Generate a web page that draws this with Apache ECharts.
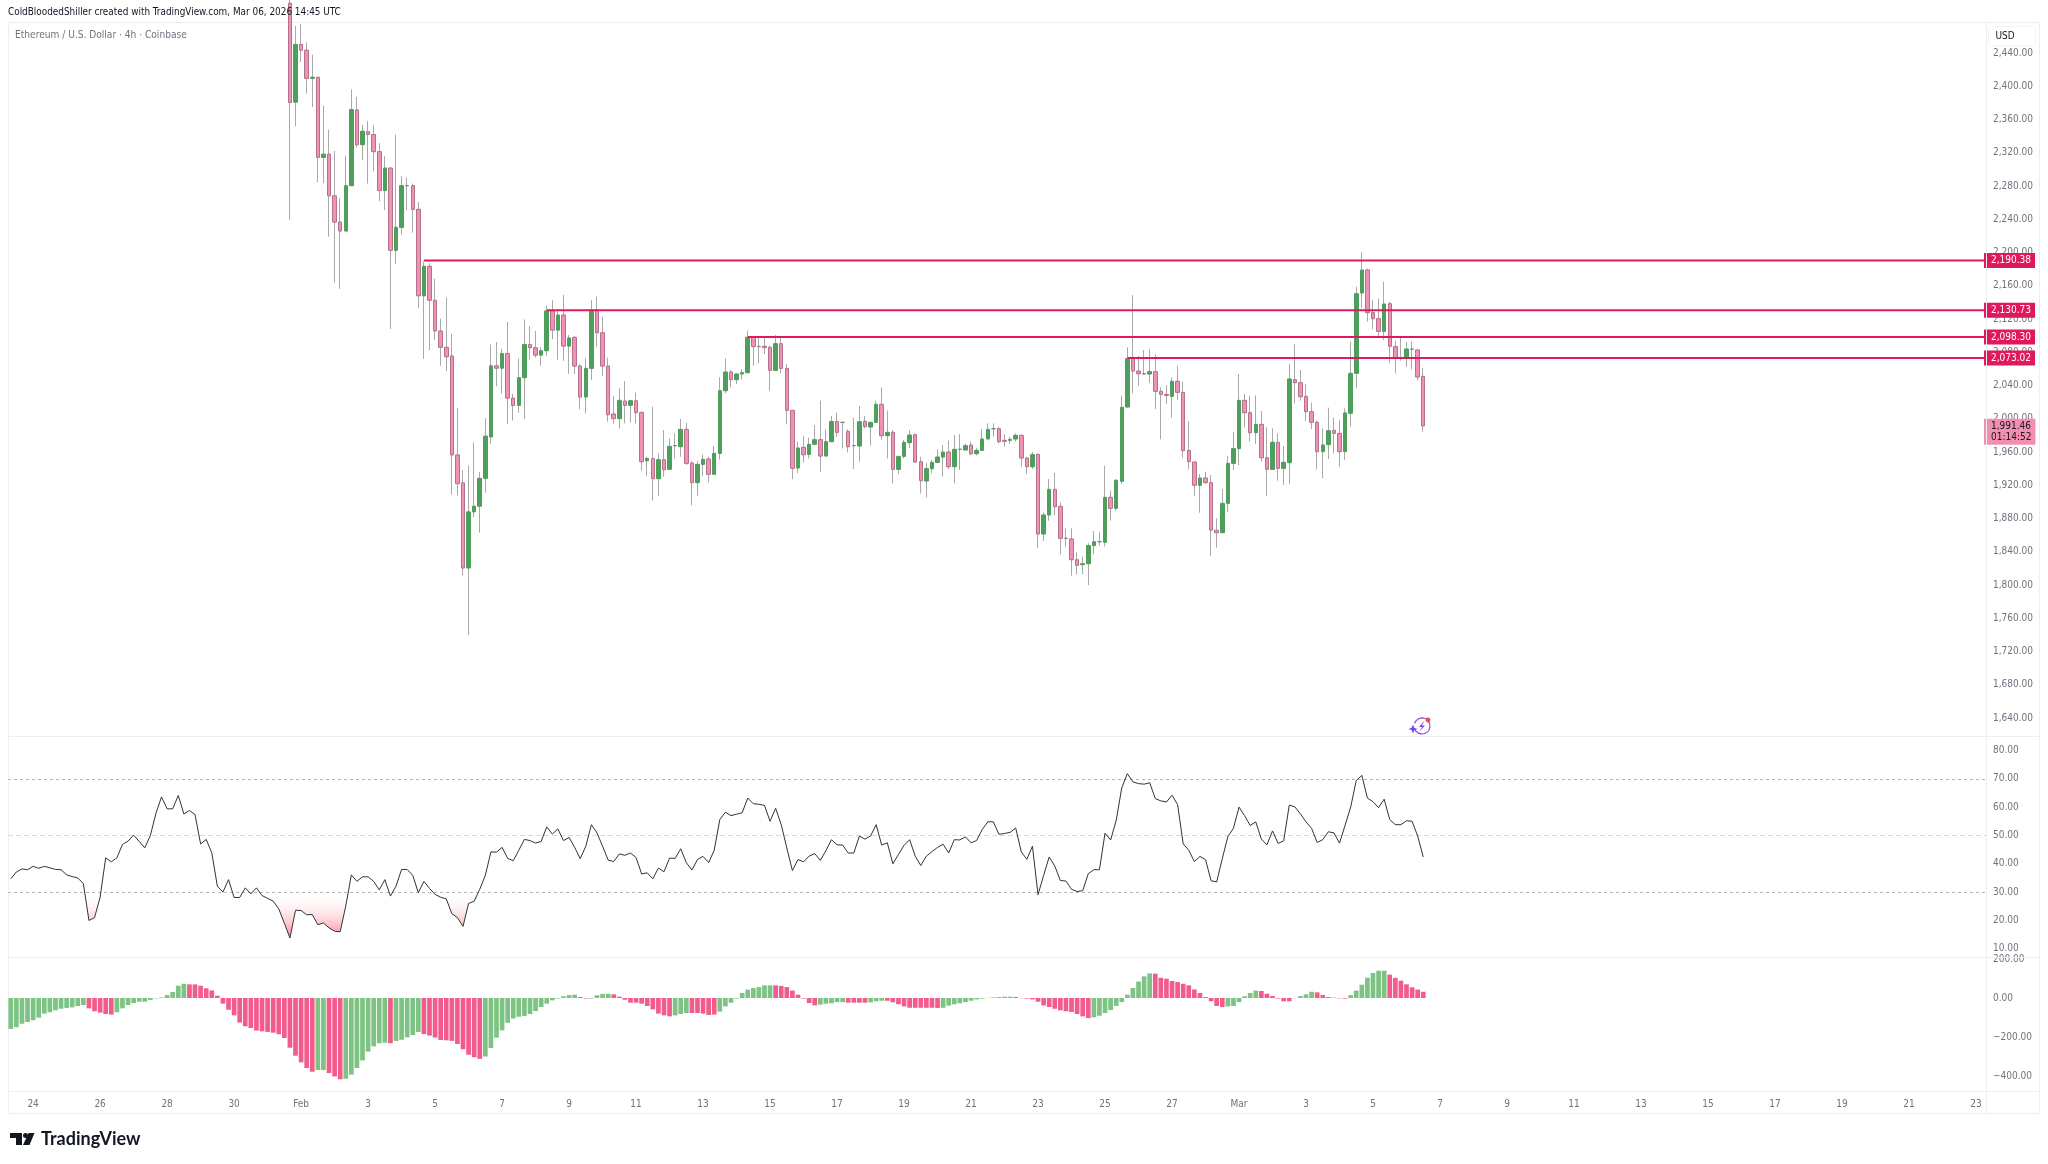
<!DOCTYPE html>
<html><head><meta charset="utf-8">
<style>html,body{margin:0;padding:0;background:#fff}#c{width:2048px;height:1164px}</style>
<script src="https://cdn.jsdelivr.net/npm/echarts@6/dist/echarts.min.js"></script>
</head><body><div id="c"></div>
<script>
// ---------- data ----------
const headerText = 'ColdBloodedShiller created with TradingView.com, Mar 06, 2026 14:45 UTC';
const symbolText = 'Ethereum / U.S. Dollar · 4h · Coinbase';
const xTickLabels = ['24','26','28','30','Feb','3','5','7','9','11','13','15','17','19','21','23','25','27','Mar','3','5','7','9','11','13','15','17','19','21','23'];
const priceTicks = [2440,2400,2360,2320,2280,2240,2200,2160,2120,2080,2040,2000,1960,1920,1880,1840,1800,1760,1720,1680,1640];
const rsiTicks = [80,70,60,50,40,30,20,10];
const macdTicks = [200,0,-200,-400];
const rsiLevels = [70,50,30];
const levelPrices = [2190.38,2130.73,2098.30,2073.02];
const levelStartIndex = [74,96,132,200];
const currentPrice = 1991.46;
const countdownText = '01:14:52';
const firstCandleIndex = 50;
const candleOpen = [
2500,2381,2450.4,2443.5,2409.6,2411,2314.5,2318.4,2268.2,2236.7,
2225.9,2280.5,2371.6,2329.8,2345.5,2342.1,2321.4,2274.6,2301.7,2202.7,
2230.3,2280.5,2280.5,2252,2148,2183.5,2142.6,2105.7,2086,2075.7,
1956.5,1923,1820.5,1888,1894.9,1928.4,1978.1,2063.8,2060.9,2078.6,
2024.9,2016,2049.5,2089.4,2085.5,2076.6,2082,2129.8,2106.7,2124.9,
2087.5,2098,2063.5,2026.2,2060.7,2130.9,2103.6,2063.5,2005.8,2000.2,
2021.4,2016.2,2021.8,2007.8,1949.6,1952,1928,1950.8,1939.2,1967.7,
1966.5,1987.3,1946.8,1923.2,1945.2,1951.6,1933.2,1958.4,2033.8,2056.3,
2047.1,2053.9,2055.5,2098,2087.2,2087.2,2086,2058.3,2090.4,2060.7,
2010.2,1940.8,1965.7,1957.2,1969.3,1974.9,1955.2,1972.5,1996.9,1995.7,
1984.9,1967.7,1967.3,1996.9,1990.1,1995.7,2017.4,1979.7,1983.7,1939.2,
1954.8,1971.3,1980.9,1948.4,1925.2,1940,1947.6,1954,1960,1942.4,
1963.3,1962.5,1968.5,1958,1962,1975.7,1988.1,1988.1,1974.1,1974.1,
1975.7,1980.1,1952.8,1942.4,1957.2,1861.4,1884.3,1915.1,1894.7,1856.2,
1855.4,1830.5,1824.5,1825.7,1847.4,1852.2,1851.4,1905.5,1892.3,1924.8,
2014.2,2072.3,2057.5,2054.3,2053.9,2056.7,2033,2029.4,2027,2045.1,
2031.8,1962,1948,1920,1928.8,1923.2,1865.8,1863,1898.3,1946.4,
1964.1,2022.2,2007.4,1983.3,1993.3,1953.2,1939.2,1971.7,1940.4,1947.2,
2047.1,2043.5,2027,2008.6,1995.8,1960.5,1968.9,1986.1,1982.5,1960.5,
2006.6,2054.7,2151.3,2179,2127.7,2120.5,2105.2,2138.5,2086.8,2072.7,
2073.6,2084,2082.8,2051.1];
const candleHigh = [
2510,2472.6,2475,2452.9,2438.1,2411,2376.6,2348,2322.4,2265.8,
2316.5,2396.3,2387.4,2353.9,2358.3,2352.9,2331.7,2316,2301.7,2342,
2291.9,2290.4,2283,2260.8,2189.4,2187,2168.7,2120.5,2146,2102.2,
2013,1938.2,1944,1971.7,1935.8,2000.8,2089.4,2092.4,2084.5,2116.5,
2030.3,2072.7,2119.5,2111.6,2105.7,2086.5,2136.2,2142.6,2130.3,2149,
2100.8,2099.6,2065.9,2072.7,2142.9,2146.9,2122.9,2073.5,2027.8,2036.6,
2045.5,2021.8,2031.4,2008.6,1954.4,2014.6,1958.4,1986.5,1976.5,1982.5,
1999.8,1995.3,1949.6,1949.6,1957.2,1954.4,1967.3,2049.9,2072.7,2058.7,
2053.9,2059.5,2106,2098.8,2098,2097.6,2088.4,2100.8,2097.6,2065.9,
2010.2,1972.5,1979.7,1977.3,1992.5,2021.8,1987.3,2003.4,2007.4,1995.7,
1987.3,2001.4,2015.4,2003.4,1996.7,2021.8,2037.8,2009.8,1986.5,1954.8,
1974.5,1986.5,1982.5,1954.4,1947.2,1950.4,1963.3,1968.5,1973.7,1980.5,
1981.7,1970,1972.5,1965.3,1987.7,1994.5,1994.5,1990.5,1981.7,1978.5,
1982.5,1981,1954.4,1960,1958.4,1887.5,1927.6,1935.2,1899.5,1868.2,
1868.2,1839.4,1834.1,1850.2,1865,1863.4,1943.6,1913.5,1927.6,2027.8,
2086,2148.9,2075.9,2082.8,2083.6,2077.5,2037.8,2040.7,2049.9,2063.9,
2044.7,1997.3,1948,1933.6,1936.4,1932.4,1880.3,1915.5,1955.2,1984.1,
2053.9,2029.8,2027.4,2028.2,2009.4,1989.7,1988.5,1982.5,1967.3,2065.9,
2090,2058.7,2041.9,2019.4,1998,1988.5,2013.4,2001.4,1998.2,2012.6,
2092.8,2159,2200.3,2181,2142.9,2144.9,2165,2140.9,2094,2098.8,
2092.8,2092.8,2083.5,2061.5];
const candleLow = [
2239.6,2352,2429.3,2391.3,2375.1,2284.5,2283.5,2219,2163.8,2156.4,
2225.9,2280.5,2326.3,2311.6,2283,2297.8,2261.8,2251,2108,2186,
2221.4,2251,2224,2132.8,2072.2,2082.5,2094.4,2063.8,2057.4,1908.7,
1907.7,1811.7,1740,1881.6,1863,1911.2,1970.2,2039.2,2030.3,1993.4,
1997.8,2007.2,1999.8,2071.2,2073.7,2063.8,2076.1,2095.8,2071.2,2069.7,
2054,2053.9,2011.4,2006.6,2046.7,2086.8,2051.5,1996.5,1994.5,1988.1,
1994.5,1995.3,1994.5,1937.6,1931.2,1901.5,1907.5,1930.4,1939.2,1952.4,
1954.4,1944.4,1895.9,1907.5,1931.2,1923.6,1933.2,1951.2,2030.6,2037.8,
2041.9,2047.5,2055.5,2063.9,2066.7,2077.9,2033.8,2057.5,2054.7,1993.3,
1927.2,1934.4,1947.6,1952.4,1969.3,1936.4,1955.2,1972.5,1978.5,1964.5,
1959.7,1939.6,1948.4,1988.5,1967.7,1995.7,1974.5,1952.4,1922.4,1933.6,
1952.4,1964.5,1947.2,1910.3,1905.5,1934.4,1947.6,1930.4,1939.6,1922.4,
1938.4,1962.5,1956,1956,1962,1975.7,1978.5,1970.5,1966.5,1969.7,
1972.5,1942.4,1933.6,1939.6,1844.2,1853,1877.4,1884.3,1837,1846.2,
1811.3,1812.9,1812.9,1800,1837.3,1847.4,1846.2,1877.4,1889.5,1921.6,
2013.8,2030.6,2039.5,2052.7,2043.5,2011.8,1975.3,2017.8,2001.4,2022.6,
1953.2,1939.2,1907.5,1887.1,1922,1835.3,1845,1863,1887.5,1938.4,
1944.4,1989.7,1972.5,1969.7,1948.4,1907.5,1938.4,1925.6,1920.4,1921.2,
2018.6,2021.8,1997.4,1987.7,1939.2,1928.4,1951.6,1958.5,1942.4,1950.4,
1990.6,2036.7,2132.9,2116.9,2107.6,2098,2094.8,2067.5,2054.7,2070,
2062.7,2059.5,2045.9,1984.5];
const candleClose = [
2380.5,2450.4,2443.5,2409.6,2411,2314.5,2318.4,2268.2,2236.7,2225.9,
2280.5,2372.1,2329.8,2346,2342.1,2321.4,2274.6,2301.7,2202.7,2230.3,
2280.5,2280.5,2252,2148,2183.5,2142.6,2105.7,2086,2074.7,1956.5,
1922,1820.5,1888,1894.9,1928.4,1979.1,2063.8,2060.9,2078.6,2024.9,
2016,2049.5,2089.4,2085.5,2076.6,2082,2129.8,2106.7,2124.9,2087.5,
2097.3,2063.5,2026.2,2060.7,2130.9,2103.6,2063.5,2005,2000.2,2022.2,
2016.2,2021.8,2007.4,1948.4,1952.4,1928,1950.8,1938.8,1966.9,1967.7,
1987.3,1946.4,1923.2,1945.2,1951.2,1933.2,1958.4,2033.8,2056.3,2047.1,
2053.9,2055.5,2098,2086.8,2086.8,2085.6,2058.3,2090.4,2060.7,2010.2,
1940.4,1964.9,1956.8,1969.3,1974.9,1955.2,1972.5,1996.9,1983.7,1995.7,
1966.5,1967.7,1996.5,1990.5,1995.7,2017.4,1979.7,1983.7,1939.2,1954.8,
1971.7,1980.5,1948,1925.6,1940,1947.6,1954,1960,1942.4,1963.3,
1963.3,1967.7,1958,1962,1975.7,1987.3,1988.1,1972.5,1972.9,1975.3,
1980.1,1952.8,1942.4,1956.8,1861.4,1884.3,1915.1,1894.3,1856.2,1856.2,
1830.5,1823.7,1825.7,1847.4,1852.2,1852.2,1905.5,1892.3,1926,2013.8,
2072.3,2057.5,2054.3,2053.9,2056.7,2033,2029.4,2028.2,2045.1,2031.8,
1961.7,1948.4,1920,1928.8,1923.2,1866.2,1863,1898.3,1946.4,1964.1,
2022.2,2007.4,1983.3,1993.3,1953.2,1939.2,1971.7,1940.4,1947.6,2047.9,
2043.5,2026.6,2008.6,1995.8,1960.5,1968.5,1985.7,1982.5,1960.5,2007,
2054.7,2150.5,2179,2127.7,2120.5,2105.2,2138.1,2087.2,2072.7,2072.7,
2084,2083.6,2050.3,1991.46];
const rsiValues = [
34.7,37.1,38.2,37.9,39.1,38.4,39.1,38.6,38.0,37.9,
36.1,35.5,35.0,33.0,20.0,21.0,28.2,42.1,40.7,42.1,
46.8,48.0,50.1,47.9,45.6,50.0,57.8,63.6,59.4,59.4,
64.1,57.6,58.8,57.4,47.0,48.6,43.9,32.1,30.0,34.4,
28.1,28.1,31.5,29.4,31.5,28.8,27.8,26.8,24.1,19.0,
13.8,23.6,23.5,22.0,22.1,18.5,19.1,17.4,16.2,16.0,
25.1,36.1,33.8,35.4,35.4,33.8,30.8,34.4,28.6,32.1,
38.0,38.0,35.9,29.8,33.8,31.3,29.2,28.2,27.6,22.4,
21.0,17.9,26.0,26.8,31.0,35.9,44.2,44.1,45.8,41.9,
41.1,44.8,48.6,48.2,47.3,47.9,53.0,50.5,52.3,48.2,
49.3,45.8,41.8,46.2,53.8,50.9,46.2,41.3,40.8,43.5,
43.0,43.8,42.2,36.4,36.8,34.7,38.5,37.2,42.0,41.9,
45.3,40.4,37.8,41.5,42.6,40.4,44.8,55.6,58.2,57.0,
57.5,58.0,63.2,61.2,61.0,60.6,55.0,59.6,53.8,45.6,
37.6,41.5,40.7,42.7,43.6,41.2,44.6,48.5,46.7,46.6,
43.8,43.8,49.8,48.7,49.8,53.8,46.6,47.4,40.0,43.3,
46.5,48.5,42.7,39.4,42.7,44.3,45.8,46.9,43.8,48.5,
48.4,49.5,47.4,48.2,52.1,54.8,54.8,50.4,50.7,51.1,
52.6,44.2,41.6,46.2,29.1,35.9,42.4,39.2,34.1,33.9,
31.0,30.2,30.5,36.5,37.9,37.9,50.8,48.4,55.3,66.8,
71.8,68.9,68.3,68.1,68.6,63.0,62.2,61.8,64.2,60.9,
47.0,44.8,40.8,42.6,41.5,34.0,33.6,41.8,49.6,52.5,
60.0,57.0,53.5,54.8,48.7,46.7,51.6,47.2,48.1,60.7,
60.1,57.6,54.8,52.5,47.5,48.5,51.3,50.9,47.3,53.6,
60.0,69.4,71.2,63.2,61.9,59.8,62.8,55.6,53.8,53.8,
55.2,55.0,49.8,42.4];
const macdValues = [
-159,-150,-132,-123,-114,-101,-80,-73,-63,-55,
-51,-48,-41,-36,-53,-68,-75,-82,-85,-73,
-53,-36,-26,-19,-19,-10,-2,3,15,31,
63,73,70,70,63,50,39,12,-29,-60,
-89,-126,-145,-154,-167,-171,-174,-178,-186,-205,
-255,-296,-330,-359,-378,-369,-369,-385,-402,-417,
-414,-393,-359,-320,-275,-248,-232,-229,-232,-220,
-214,-202,-190,-174,-185,-193,-203,-215,-217,-220,
-236,-263,-291,-304,-312,-300,-256,-203,-166,-127,
-105,-96,-92,-82,-67,-46,-29,-12,-3,9,
15,17,5,-3,-3,14,21,22,19,7,
-9,-24,-24,-29,-41,-58,-80,-89,-94,-89,
-82,-77,-77,-77,-80,-87,-85,-70,-43,-24,
-3,26,43,51,56,65,65,65,62,56,
38,17,-3,-26,-38,-34,-29,-27,-21,-21,
-24,-24,-24,-24,-22,-17,-14,-14,-22,-32,
-43,-50,-50,-50,-50,-50,-51,-50,-39,-32,
-27,-21,-14,-7,-3,1,3,5,7,7,
5,-1,-3,-7,-19,-38,-46,-55,-63,-68,
-72,-82,-94,-103,-99,-91,-77,-62,-41,-21,
17,51,84,111,126,125,104,99,87,82,
73,65,44,26,5,-17,-41,-46,-43,-41,
-21,9,26,38,36,22,10,-3,-17,-17,
-1,10,19,32,29,15,5,2,-2,-3,
15,38,68,104,128,140,140,120,103,89,
70,55,43,32];
// alternating runs of bar colour, starting with green
const macdColorRuns = [14,5,13,23,2,3,8,1,5,11,17,2,4,11,3,5,10,8,5,4,3,10,13,14,11,13,6,7,3,6,7,7];

// ---------- styling ----------
const UI = '"DejaVu Sans Condensed", "Liberation Sans", Arial, sans-serif';
const GREY = '#70737d', PINK_TAG = '#e0195e', GREEN = '#4f9f5c', PINK = '#ef92b4', PINK_EDGE = '#b5718b', WICK = '#a9a9a9';
const MACD_GREEN = '#7cc384', MACD_PINK = '#f25c8c', CHROME = '#eceef2';
const fmt2 = v => (v < 0 ? '\u2212' : '') + Math.abs(v).toLocaleString('en-US', {minimumFractionDigits: 2, maximumFractionDigits: 2});

const X_MIN = -0.5, X_MAX = 353.8;
const P_MIN = 1618.4, P_MAX = 2477.4;
const R_MIN = 7.1, R_MAX = 85.1;
const M_MIN = -476.9, M_MAX = 210.3;

const wickData = candleOpen.map((o, k) => [firstCandleIndex + k, o, candleClose[k], candleLow[k], candleHigh[k]]);
const bodyData = candleOpen.map((o, k) => {
  const c = candleClose[k];
  return [firstCandleIndex + k, o, c, Math.min(o, c), Math.max(o, c)];
});
const macdColors = [];
macdColorRuns.forEach((n, r) => { for (let j = 0; j < n; j++) macdColors.push(r % 2 ? MACD_PINK : MACD_GREEN); });
const xTickValues = xTickLabels.map((_, k) => 4 + 12 * k);

function xAxisFor(gridIndex, showLabels) {
  return {
    type: 'value', gridIndex, min: X_MIN, max: X_MAX,
    axisLine: {show: false}, axisTick: {show: false}, splitLine: {show: false},
    axisLabel: showLabels ? {
      show: true, customValues: xTickValues, margin: 8, hideOverlap: false,
      fontFamily: UI, fontSize: 10, color: GREY,
      formatter: v => xTickLabels[Math.round((v - 4) / 12)]
    } : {show: false}
  };
}
function yAxisFor(gridIndex, min, max, ticks) {
  return {
    type: 'value', gridIndex, min, max, position: 'right', scale: true,
    axisLine: {show: false}, axisTick: {show: false}, splitLine: {show: false},
    axisLabel: {show: true, customValues: ticks, margin: 7, fontFamily: UI, fontSize: 10, color: GREY, formatter: fmt2, hideOverlap: false}
  };
}
const tagAxisBase = {
  type: 'value', gridIndex: 0, min: P_MIN, max: P_MAX, position: 'right',
  axisLine: {show: false}, axisTick: {show: false}, splitLine: {show: false}
};
const levelSeries = levelPrices.map((p, k) => ({
  type: 'line', xAxisIndex: 0, yAxisIndex: 0, z: 6, silent: true, symbol: 'none',
  lineStyle: {color: PINK_TAG, width: 2},
  data: [[levelStartIndex[k], p], [X_MAX, p]]
}));

const chart = echarts.init(document.getElementById('c'), null, {renderer: 'canvas'});
chart.setOption({
  animation: false,
  backgroundColor: '#ffffff',
  grid: [
    {left: 8, top: 22, width: 1978, height: 714},
    {left: 8, top: 736, width: 1978, height: 221},
    {left: 8, top: 957, width: 1978, height: 134}
  ],
  xAxis: [xAxisFor(0, false), xAxisFor(1, false), xAxisFor(2, true)],
  yAxis: [
    yAxisFor(0, P_MIN, P_MAX, priceTicks),
    yAxisFor(1, R_MIN, R_MAX, rsiTicks),
    yAxisFor(2, M_MIN, M_MAX, macdTicks),
    Object.assign({}, tagAxisBase, {axisLabel: {
      show: true, customValues: levelPrices, margin: -2, fontFamily: UI, fontSize: 10, color: '#fff',
      backgroundColor: PINK_TAG, padding: [2, 4, 2, 7], lineHeight: 11, formatter: fmt2, hideOverlap: false
    }}),
    Object.assign({}, tagAxisBase, {axisLabel: {
      show: true, customValues: [currentPrice - 7], margin: -2, fontFamily: UI, fontSize: 10, color: '#131722',
      backgroundColor: '#f28fb0', padding: [2, 4, 2, 7], lineHeight: 11, hideOverlap: false,
      formatter: () => fmt2(currentPrice) + '\n' + countdownText
    }})
  ],
  series: [
    {type: 'candlestick', name: 'wicks', xAxisIndex: 0, yAxisIndex: 0, z: 2, silent: true, barWidth: 2, encode: {x: 0, y: [1, 2, 3, 4]},
     itemStyle: {color: WICK, color0: WICK, borderColor: WICK, borderColor0: WICK, borderColorDoji: WICK, borderWidth: 1}, data: wickData},
    {type: 'candlestick', name: 'bodies', xAxisIndex: 0, yAxisIndex: 0, z: 3, silent: true, barWidth: 4, encode: {x: 0, y: [1, 2, 3, 4]},
     itemStyle: {color: GREEN, color0: PINK, borderColor: GREEN, borderColor0: PINK_EDGE, borderColorDoji: '#8a7a80', borderWidth: 1}, data: bodyData},
    ...levelSeries,
    {type: 'line', name: 'rsiFill', xAxisIndex: 1, yAxisIndex: 1, z: 2, silent: true, symbol: 'none', lineStyle: {width: 0},
     areaStyle: {origin: rsiLevels[2], opacity: 1, color: new echarts.graphic.LinearGradient(0, 892.7, 0, 932, [
       {offset: 0, color: 'rgba(255,255,255,0)'}, {offset: 1, color: 'rgba(250,130,140,0.72)'}], true)},
     data: rsiValues.map((r, i) => [i, Math.min(r, rsiLevels[2])])},
    {type: 'line', name: 'rsi', xAxisIndex: 1, yAxisIndex: 1, z: 4, silent: true, symbol: 'none', lineStyle: {color: '#30333c', width: 1},
     data: rsiValues.map((r, i) => [i, r]),
     markLine: {silent: true, symbol: 'none', label: {show: false}, animation: false, z: 1, data: [
       {yAxis: rsiLevels[0], lineStyle: {color: '#b4b6ba', type: [3, 3], width: 1}},
       {yAxis: rsiLevels[1], lineStyle: {color: '#d8d9dc', type: [5, 3], width: 1}},
       {yAxis: rsiLevels[2], lineStyle: {color: '#b4b6ba', type: [3, 3], width: 1}}
     ]}},
    {type: 'bar', name: 'macd', xAxisIndex: 2, yAxisIndex: 2, silent: true, barWidth: 4.7,
     itemStyle: {color: p => macdColors[p.dataIndex]},
     data: macdValues.map((v, i) => [i, v])}
  ],
  graphic: {elements: [
    // panes and frame
    {type: 'rect', z: 1, silent: true, shape: {x: 8.5, y: 22.5, width: 2031, height: 1091}, style: {fill: 'none', stroke: CHROME, lineWidth: 1}},
    {type: 'line', z: 1, silent: true, shape: {x1: 8, y1: 736.5, x2: 2040, y2: 736.5}, style: {stroke: CHROME, lineWidth: 1}},
    {type: 'line', z: 1, silent: true, shape: {x1: 8, y1: 957.5, x2: 2040, y2: 957.5}, style: {stroke: CHROME, lineWidth: 1}},
    {type: 'line', z: 1, silent: true, shape: {x1: 8, y1: 1091.5, x2: 2040, y2: 1091.5}, style: {stroke: CHROME, lineWidth: 1}},
    {type: 'line', z: 1, silent: true, shape: {x1: 1986.5, y1: 22, x2: 1986.5, y2: 1114}, style: {stroke: CHROME, lineWidth: 1}},
    // header
    {type: 'text', z: 50, silent: true, x: 8, y: 12, style: {text: headerText, fill: '#131722', font: '9.9px ' + UI, textVerticalAlign: 'middle'}},
    {type: 'text', z: 50, silent: true, x: 15, y: 35, style: {text: symbolText, fill: GREY, font: '10.1px ' + UI, textVerticalAlign: 'middle'}},
    // USD box
    {type: 'rect', z: 50, silent: true, shape: {x: 1988.5, y: 26.5, width: 47, height: 19, r: 3}, style: {fill: '#fff', stroke: '#f3f4f6', lineWidth: 1}},
    {type: 'text', z: 51, silent: true, x: 2005, y: 36, style: {text: 'USD', fill: '#131722', font: '10px ' + UI, textAlign: 'center', textVerticalAlign: 'middle'}},
    // TradingView logo
    {type: 'polygon', z: 50, silent: true, shape: {points: [[10,1133],[22,1133],[22,1145],[16,1145],[16,1138],[10,1138]]}, style: {fill: '#131722'}},
    {type: 'circle', z: 50, silent: true, shape: {cx: 25.5, cy: 1135.5, r: 2.5}, style: {fill: '#131722'}},
    {type: 'polygon', z: 50, silent: true, shape: {points: [[28.5,1133],[34.5,1133],[29.5,1145],[23,1145]]}, style: {fill: '#131722'}},
    {type: 'text', z: 50, silent: true, x: 41, y: 1139.5, style: {text: 'TradingView', fill: '#131722', font: '700 18px Lato, "Liberation Sans", sans-serif', textVerticalAlign: 'middle'}},
    // lightning badge
    {type: 'arc', z: 50, silent: true, shape: {cx: 1422, cy: 726, r: 8, startAngle: -0.7, endAngle: 2.7, clockwise: true}, style: {fill: 'none', stroke: '#8e44d6', lineWidth: 1.2}},
    {type: 'arc', z: 50, silent: true, shape: {cx: 1422, cy: 726, r: 8, startAngle: 3.5, endAngle: 5.2, clockwise: true}, style: {fill: 'none', stroke: '#8e44d6', lineWidth: 1.2}},
    {type: 'polygon', z: 50, silent: true, shape: {points: [[1424.5,720.5],[1419,727],[1422,727],[1419.5,731.5],[1425,725.5],[1422,725.5]]}, style: {fill: '#9b3fd4'}},
    {type: 'polygon', z: 50, silent: true, shape: {points: [[1413,724.5],[1414.3,727.7],[1417.5,729],[1414.3,730.3],[1413,733.5],[1411.7,730.3],[1408.5,729],[1411.7,727.7]]}, style: {fill: '#6b4df0'}},
    {type: 'circle', z: 50, silent: true, shape: {cx: 1428, cy: 720, r: 2.4}, style: {fill: '#f0425c'}}
  ]}
});
</script></body></html>
